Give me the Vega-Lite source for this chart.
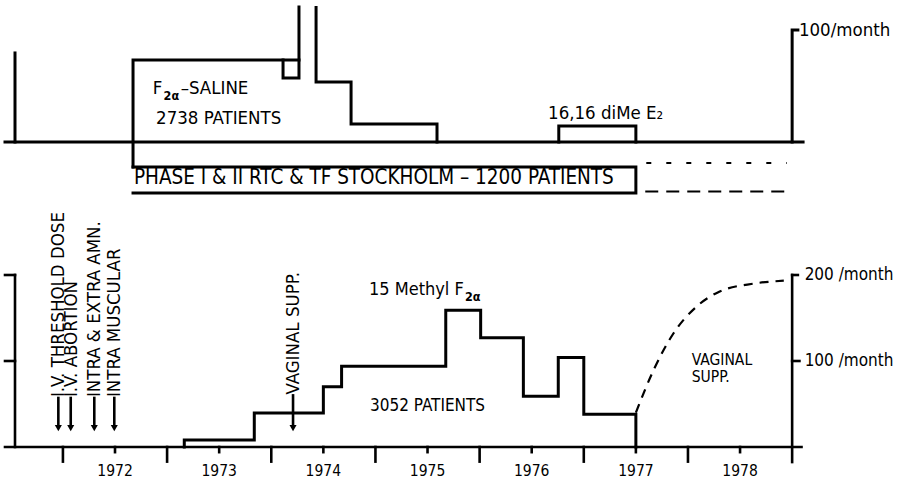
{
  "$schema": "https://vega.github.io/schema/vega-lite/v6.json",
  "width": 901,
  "height": 447,
  "autosize": {"type": "none"},
  "padding": {"left": 0, "top": 0, "right": 0, "bottom": 38},
  "background": "white",
  "config": {"view": {"stroke": null}, "text": {"font": "DejaVu Sans Condensed, Liberation Sans, sans-serif"}},
  "datasets": {
    "topPaths": [
      {"seg": "a", "i": 0, "t": 1972.173, "v": -22.3},
      {"seg": "a", "i": 1, "t": 1972.173, "v": 73.2},
      {"seg": "a", "i": 2, "t": 1973.766, "v": 73.2},
      {"seg": "b", "i": 0, "t": 1973.766, "v": 120.5},
      {"seg": "b", "i": 1, "t": 1973.766, "v": 57.1},
      {"seg": "b", "i": 2, "t": 1973.613, "v": 57.1},
      {"seg": "b", "i": 3, "t": 1973.613, "v": 73.2},
      {"seg": "c", "i": 0, "t": 1972.173, "v": -22.3},
      {"seg": "c", "i": 1, "t": 1977.0, "v": -22.3},
      {"seg": "c", "i": 2, "t": 1977.0, "v": -45.5},
      {"seg": "c", "i": 3, "t": 1972.173, "v": -45.5},
      {"seg": "d", "i": 0, "t": 1973.93, "v": 120},
      {"seg": "d", "i": 1, "t": 1973.93, "v": 53.6},
      {"seg": "d", "i": 2, "t": 1974.266, "v": 53.6},
      {"seg": "d", "i": 3, "t": 1974.266, "v": 16.1},
      {"seg": "d", "i": 4, "t": 1975.091, "v": 16.1},
      {"seg": "d", "i": 5, "t": 1975.091, "v": 0},
      {"seg": "e", "i": 0, "t": 1976.26, "v": 0},
      {"seg": "e", "i": 1, "t": 1976.26, "v": 14.3},
      {"seg": "e", "i": 2, "t": 1977.0, "v": 14.3},
      {"seg": "e", "i": 3, "t": 1977.0, "v": 0},
      {"seg": "f", "i": 0, "t": 1971.04, "v": 0},
      {"seg": "f", "i": 1, "t": 1971.04, "v": 79.5},
      {"seg": "g", "i": 0, "t": 1970.944, "v": 0},
      {"seg": "g", "i": 1, "t": 1978.605, "v": 0},
      {"seg": "h", "i": 0, "t": 1978.5, "v": 0},
      {"seg": "h", "i": 1, "t": 1978.5, "v": 100},
      {"seg": "h", "i": 2, "t": 1978.555, "v": 100}
    ],
    "topText": [
      {"label": "F", "t": 1972.362, "v": 47.8},
      {"label": "–SALINE", "t": 1972.63, "v": 47.8},
      {"label": "2738 PATIENTS", "t": 1972.394, "v": 21.4},
      {"label": "16,16 diMe E₂", "t": 1976.157, "v": 25.9},
      {"label": "100/month", "t": 1978.565, "v": 100}
    ],
    "topSub": [
      {"label": "2α", "t": 1972.466, "v": 41}
    ],
    "phase": [
      {"label": "PHASE I & II RTC & TF STOCKHOLM – 1200 PATIENTS", "t": 1972.182, "v": -31.7}
    ],
    "methyl": [
      {"i": 0, "t": 1972.665, "v": 0},
      {"i": 1, "t": 1972.665, "v": 8.1},
      {"i": 2, "t": 1973.337, "v": 39.5},
      {"i": 3, "t": 1974.0, "v": 70},
      {"i": 4, "t": 1974.175, "v": 94},
      {"i": 5, "t": 1975.175, "v": 159},
      {"i": 6, "t": 1975.51, "v": 127},
      {"i": 7, "t": 1975.92, "v": 59},
      {"i": 8, "t": 1976.255, "v": 104},
      {"i": 9, "t": 1976.5, "v": 38},
      {"i": 10, "t": 1977.0, "v": 0}
    ],
    "botRules": [
      {"t": 1970.944, "t2": 1978.59, "v": 0, "v2": 0},
      {"t": 1971.04, "t2": 1971.04, "v": 0, "v2": 200},
      {"t": 1970.944, "t2": 1971.04, "v": 100, "v2": 100},
      {"t": 1970.944, "t2": 1971.04, "v": 200, "v2": 200},
      {"t": 1978.5, "t2": 1978.5, "v": -17.5, "v2": 200},
      {"t": 1978.5, "t2": 1978.57, "v": 100, "v2": 100},
      {"t": 1978.5, "t2": 1978.555, "v": 200, "v2": 200},
      {"t": 1971.5, "t2": 1971.5, "v": 0, "v2": -17},
      {"t": 1972.5, "t2": 1972.5, "v": 0, "v2": -17},
      {"t": 1973.5, "t2": 1973.5, "v": 0, "v2": -17},
      {"t": 1974.5, "t2": 1974.5, "v": 0, "v2": -17},
      {"t": 1975.5, "t2": 1975.5, "v": 0, "v2": -17},
      {"t": 1976.5, "t2": 1976.5, "v": 0, "v2": -17},
      {"t": 1977.5, "t2": 1977.5, "v": 0, "v2": -17},
      {"t": 1972, "t2": 1972, "v": 0, "v2": -6},
      {"t": 1973, "t2": 1973, "v": 0, "v2": -6},
      {"t": 1974, "t2": 1974, "v": 0, "v2": -6},
      {"t": 1975, "t2": 1975, "v": 0, "v2": -6},
      {"t": 1976, "t2": 1976, "v": 0, "v2": -6},
      {"t": 1977, "t2": 1977, "v": 0, "v2": -6},
      {"t": 1978, "t2": 1978, "v": 0, "v2": -6},
      {"t": 1971.456, "t2": 1971.456, "v": 57, "v2": 24},
      {"t": 1971.575, "t2": 1971.575, "v": 57, "v2": 24},
      {"t": 1971.801, "t2": 1971.801, "v": 57, "v2": 24},
      {"t": 1971.993, "t2": 1971.993, "v": 57, "v2": 24},
      {"t": 1973.709, "t2": 1973.709, "v": 60, "v2": 24}
    ],
    "arrowHeads": [
      {"t": 1971.456, "v": 22},
      {"t": 1971.575, "v": 22},
      {"t": 1971.801, "v": 22},
      {"t": 1971.993, "v": 22},
      {"t": 1973.709, "v": 22}
    ],
    "vagCurve": [
      {"t": 1977.0, "v": 40},
      {"t": 1977.17, "v": 89.5},
      {"t": 1977.36, "v": 132},
      {"t": 1977.58, "v": 163},
      {"t": 1977.8, "v": 180.6},
      {"t": 1978.13, "v": 190},
      {"t": 1978.42, "v": 193.4}
    ],
    "years": [
      {"label": "1972", "t": 1972, "v": -27.9},
      {"label": "1973", "t": 1973, "v": -27.9},
      {"label": "1974", "t": 1974, "v": -27.9},
      {"label": "1975", "t": 1975, "v": -27.9},
      {"label": "1976", "t": 1976, "v": -27.9},
      {"label": "1977", "t": 1977, "v": -27.9},
      {"label": "1978", "t": 1978, "v": -27.9}
    ],
    "botText": [
      {"label": "3052 PATIENTS", "t": 1974.448, "v": 47.7},
      {"label": "200 /month", "t": 1978.62, "v": 200},
      {"label": "100 /month", "t": 1978.62, "v": 100}
    ],
    "methylLabel": [
      {"label": "15 Methyl F", "t": 1974.438, "v": 182.6}
    ],
    "vagLabel": [
      {"label": "VAGINAL\nSUPP.", "t": 1977.536, "v": 101.5}
    ],
    "botSub": [
      {"label": "2α", "t": 1975.36, "v": 174.4}
    ],
    "vertText": [
      {"label": "I.V. THRESHOLD DOSE", "t": 1971.456, "v": 58},
      {"label": "I.V. ABORTION", "t": 1971.575, "v": 58},
      {"label": "INTRA & EXTRA AMN.", "t": 1971.801, "v": 58},
      {"label": "INTRA MUSCULAR", "t": 1971.993, "v": 58},
      {"label": "VAGINAL SUPP.", "t": 1973.709, "v": 61}
    ]
  },
  "resolve": {"scale": {"y": "independent"}},
  "layer": [
    {
      "layer": [
        {
          "data": {"name": "topPaths"},
          "mark": {"type": "line", "color": "black", "strokeWidth": 3, "strokeJoin": "miter", "strokeCap": "square"},
          "encoding": {
            "x": {"field": "t", "type": "quantitative", "scale": {"domain": [1970.896, 1979.545], "nice": false, "zero": false}, "axis": null},
            "y": {"field": "v", "type": "quantitative", "scale": {"domain": [-272.32, 126.79], "nice": false, "zero": false}, "axis": null},
            "detail": {"field": "seg"},
            "order": {"field": "i"}
          }
        },
        {
          "data": {"values": [{"t": 1977.1, "t2": 1978.45, "v": -18.75}]},
          "mark": {"type": "rule", "color": "black", "strokeWidth": 2, "strokeDash": [5, 15]},
          "encoding": {
            "x": {"field": "t", "type": "quantitative", "scale": {"domain": [1970.896, 1979.545], "nice": false, "zero": false}, "axis": null},
            "x2": {"field": "t2"},
            "y": {"field": "v", "type": "quantitative", "scale": {"domain": [-272.32, 126.79], "nice": false, "zero": false}, "axis": null}
          }
        },
        {
          "data": {"values": [{"t": 1977.09, "t2": 1978.48, "v": -44.2}]},
          "mark": {"type": "rule", "color": "black", "strokeWidth": 2, "strokeDash": [13, 8]},
          "encoding": {
            "x": {"field": "t", "type": "quantitative", "scale": {"domain": [1970.896, 1979.545], "nice": false, "zero": false}, "axis": null},
            "x2": {"field": "t2"},
            "y": {"field": "v", "type": "quantitative", "scale": {"domain": [-272.32, 126.79], "nice": false, "zero": false}, "axis": null}
          }
        },
        {
          "data": {"name": "topText"},
          "mark": {"type": "text", "align": "left", "baseline": "middle", "fontSize": 18.5, "color": "black"},
          "encoding": {
            "x": {"field": "t", "type": "quantitative", "scale": {"domain": [1970.896, 1979.545], "nice": false, "zero": false}, "axis": null},
            "y": {"field": "v", "type": "quantitative", "scale": {"domain": [-272.32, 126.79], "nice": false, "zero": false}, "axis": null},
            "text": {"field": "label"}
          }
        },
        {
          "data": {"name": "topSub"},
          "mark": {"type": "text", "align": "left", "baseline": "middle", "fontSize": 12.5, "fontWeight": "bold", "color": "black"},
          "encoding": {
            "x": {"field": "t", "type": "quantitative", "scale": {"domain": [1970.896, 1979.545], "nice": false, "zero": false}, "axis": null},
            "y": {"field": "v", "type": "quantitative", "scale": {"domain": [-272.32, 126.79], "nice": false, "zero": false}, "axis": null},
            "text": {"field": "label"}
          }
        },
        {
          "data": {"name": "phase"},
          "mark": {"type": "text", "align": "left", "baseline": "middle", "fontSize": 20.5, "color": "black"},
          "encoding": {
            "x": {"field": "t", "type": "quantitative", "scale": {"domain": [1970.896, 1979.545], "nice": false, "zero": false}, "axis": null},
            "y": {"field": "v", "type": "quantitative", "scale": {"domain": [-272.32, 126.79], "nice": false, "zero": false}, "axis": null},
            "text": {"field": "label"}
          }
        }
      ]
    },
    {
      "layer": [
        {
          "data": {"name": "methyl"},
          "mark": {"type": "line", "interpolate": "step-after", "color": "black", "strokeWidth": 3, "strokeJoin": "miter", "strokeCap": "square"},
          "encoding": {
            "x": {"field": "t", "type": "quantitative", "scale": {"domain": [1970.896, 1979.545], "nice": false, "zero": false}, "axis": null},
            "y": {"field": "v", "type": "quantitative", "scale": {"domain": [0, 519.77], "nice": false, "zero": false}, "axis": null},
            "order": {"field": "i"}
          }
        },
        {
          "data": {"name": "botRules"},
          "mark": {"type": "rule", "color": "black", "strokeWidth": 2.6, "strokeCap": "square"},
          "encoding": {
            "x": {"field": "t", "type": "quantitative", "scale": {"domain": [1970.896, 1979.545], "nice": false, "zero": false}, "axis": null},
            "x2": {"field": "t2"},
            "y": {"field": "v", "type": "quantitative", "scale": {"domain": [0, 519.77], "nice": false, "zero": false}, "axis": null},
            "y2": {"field": "v2"}
          }
        },
        {
          "data": {"name": "arrowHeads"},
          "mark": {"type": "point", "shape": "triangle-down", "filled": true, "size": 50, "color": "black", "opacity": 1},
          "encoding": {
            "x": {"field": "t", "type": "quantitative", "scale": {"domain": [1970.896, 1979.545], "nice": false, "zero": false}, "axis": null},
            "y": {"field": "v", "type": "quantitative", "scale": {"domain": [0, 519.77], "nice": false, "zero": false}, "axis": null}
          }
        },
        {
          "data": {"name": "vagCurve"},
          "mark": {"type": "line", "interpolate": "monotone", "color": "black", "strokeWidth": 2.2, "strokeDash": [9, 7]},
          "encoding": {
            "x": {"field": "t", "type": "quantitative", "scale": {"domain": [1970.896, 1979.545], "nice": false, "zero": false}, "axis": null},
            "y": {"field": "v", "type": "quantitative", "scale": {"domain": [0, 519.77], "nice": false, "zero": false}, "axis": null}
          }
        },
        {
          "data": {"name": "years"},
          "mark": {"type": "text", "align": "center", "baseline": "middle", "fontSize": 15.5, "color": "black"},
          "encoding": {
            "x": {"field": "t", "type": "quantitative", "scale": {"domain": [1970.896, 1979.545], "nice": false, "zero": false}, "axis": null},
            "y": {"field": "v", "type": "quantitative", "scale": {"domain": [0, 519.77], "nice": false, "zero": false}, "axis": null},
            "text": {"field": "label"}
          }
        },
        {
          "data": {"name": "botText"},
          "mark": {"type": "text", "align": "left", "baseline": "middle", "fontSize": 17, "color": "black"},
          "encoding": {
            "x": {"field": "t", "type": "quantitative", "scale": {"domain": [1970.896, 1979.545], "nice": false, "zero": false}, "axis": null},
            "y": {"field": "v", "type": "quantitative", "scale": {"domain": [0, 519.77], "nice": false, "zero": false}, "axis": null},
            "text": {"field": "label"}
          }
        },
        {
          "data": {"name": "methylLabel"},
          "mark": {"type": "text", "align": "left", "baseline": "middle", "fontSize": 18, "color": "black"},
          "encoding": {
            "x": {"field": "t", "type": "quantitative", "scale": {"domain": [1970.896, 1979.545], "nice": false, "zero": false}, "axis": null},
            "y": {"field": "v", "type": "quantitative", "scale": {"domain": [0, 519.77], "nice": false, "zero": false}, "axis": null},
            "text": {"field": "label"}
          }
        },
        {
          "data": {"name": "vagLabel"},
          "mark": {"type": "text", "align": "left", "baseline": "middle", "fontSize": 15.5, "lineBreak": "\n", "lineHeight": 17, "color": "black"},
          "encoding": {
            "x": {"field": "t", "type": "quantitative", "scale": {"domain": [1970.896, 1979.545], "nice": false, "zero": false}, "axis": null},
            "y": {"field": "v", "type": "quantitative", "scale": {"domain": [0, 519.77], "nice": false, "zero": false}, "axis": null},
            "text": {"field": "label"}
          }
        },
        {
          "data": {"name": "botSub"},
          "mark": {"type": "text", "align": "left", "baseline": "middle", "fontSize": 12.5, "fontWeight": "bold", "color": "black"},
          "encoding": {
            "x": {"field": "t", "type": "quantitative", "scale": {"domain": [1970.896, 1979.545], "nice": false, "zero": false}, "axis": null},
            "y": {"field": "v", "type": "quantitative", "scale": {"domain": [0, 519.77], "nice": false, "zero": false}, "axis": null},
            "text": {"field": "label"}
          }
        },
        {
          "data": {"name": "vertText"},
          "mark": {"type": "text", "align": "left", "baseline": "middle", "angle": 270, "fontSize": 18.5, "color": "black"},
          "encoding": {
            "x": {"field": "t", "type": "quantitative", "scale": {"domain": [1970.896, 1979.545], "nice": false, "zero": false}, "axis": null},
            "y": {"field": "v", "type": "quantitative", "scale": {"domain": [0, 519.77], "nice": false, "zero": false}, "axis": null},
            "text": {"field": "label"}
          }
        }
      ]
    }
  ]
}
